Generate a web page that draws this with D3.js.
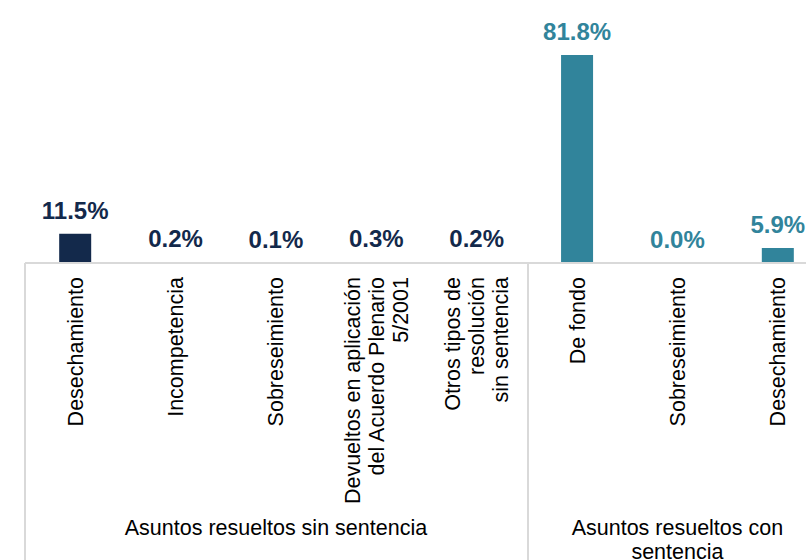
<!DOCTYPE html>
<html>
<head>
<meta charset="utf-8">
<script src="https://cdn.jsdelivr.net/npm/d3@7"></script>
<style>
  body { margin: 0; background: #fff; }
  svg { display: block; font-family: "Liberation Sans", Arial, sans-serif; }
</style>
</head>
<body>
<script>
// categories (each line of a label is a separate entry)
var categories = [
    ["Desechamiento"],
    ["Incompetencia"],
    ["Sobreseimiento"],
    ["Devueltos en aplicación", "del Acuerdo Plenario", "5/2001"],
    ["Otros tipos de", "resolución", "sin sentencia"],
    ["De fondo"],
    ["Sobreseimiento"],
    ["Desechamiento"]
];
var values = [11.5, 0.2, 0.1, 0.3, 0.2, 81.8, 0.0, 5.9];
var groupOf = [0, 0, 0, 0, 0, 1, 1, 1];
var groups = [
    ["Asuntos resueltos sin sentencia"],
    ["Asuntos resueltos con", "sentencia"]
];
var groupColors = ["#13294b", "#31849b"];

// set the dimensions
var width = 806,
    height = 560,
    baseY = 263;

var svg = d3.select("body").append("svg")
    .attr("width", width)
    .attr("height", height);

// set the ranges
var x = d3.scaleBand()
    .domain(d3.range(categories.length))
    .range([25, 828])
    .paddingInner(0)
    .paddingOuter(0);

var y = d3.scaleLinear()
    .domain([0, 81.8])
    .range([baseY, 55]);

var barW = 32;

// bars
svg.selectAll(".bar")
    .data(values)
    .enter().append("rect")
    .attr("class", "bar")
    .attr("x", function(d, i) { return x(i) + x.bandwidth() / 2 - barW / 2; })
    .attr("y", function(d) { return y(d); })
    .attr("width", barW)
    .attr("height", function(d) { return baseY - y(d); })
    .style("fill", function(d, i) { return groupColors[groupOf[i]]; });

// value labels
svg.selectAll(".val")
    .data(values)
    .enter().append("text")
    .attr("class", "val")
    .attr("x", function(d, i) { return x(i) + x.bandwidth() / 2; })
    .attr("y", function(d) { return y(d) - 15; })
    .attr("text-anchor", "middle")
    .style("font-size", "24px")
    .style("font-weight", "bold")
    .style("fill", function(d, i) { return groupColors[groupOf[i]]; })
    .text(function(d) { return d.toFixed(1) + "%"; });

// axis lines
var lineColor = "#d9d9d9";
svg.append("line")
    .attr("x1", 25).attr("x2", width)
    .attr("y1", baseY).attr("y2", baseY)
    .style("stroke", lineColor).style("stroke-width", 2);

// group separators
var gStart = [0, 5];
gStart.forEach(function(s) {
    var gx = Math.round(x(s)) + (s === 0 ? 0 : 1);
    svg.append("line")
        .attr("x1", gx).attr("x2", gx)
        .attr("y1", baseY).attr("y2", height)
        .style("stroke", lineColor).style("stroke-width", 2);
});

// category labels, rotated
var lineH = 24;
categories.forEach(function(lines, i) {
    var cx = x(i) + x.bandwidth() / 2;
    var off = (lines.length - 1) / 2;
    lines.forEach(function(t, j) {
        var lx = cx + (j - off) * lineH;
        svg.append("text")
            .attr("transform", "translate(" + lx + ",277) rotate(-90)")
            .attr("dy", ".35em")
            .attr("text-anchor", "end")
            .style("font-size", "21.5px")
            .style("fill", "#000")
            .text(t);
    });
});

// group labels
groups.forEach(function(lines, g) {
    var idx = d3.range(categories.length).filter(function(i) { return groupOf[i] === g; });
    var x0 = x(idx[0]),
        x1 = x(idx[idx.length - 1]) + x.bandwidth();
    lines.forEach(function(t, j) {
        svg.append("text")
            .attr("x", (x0 + x1) / 2)
            .attr("y", 535 + j * 24)
            .attr("text-anchor", "middle")
            .style("font-size", "21.5px")
            .style("fill", "#000")
            .text(t);
    });
});
</script>
</body>
</html>
